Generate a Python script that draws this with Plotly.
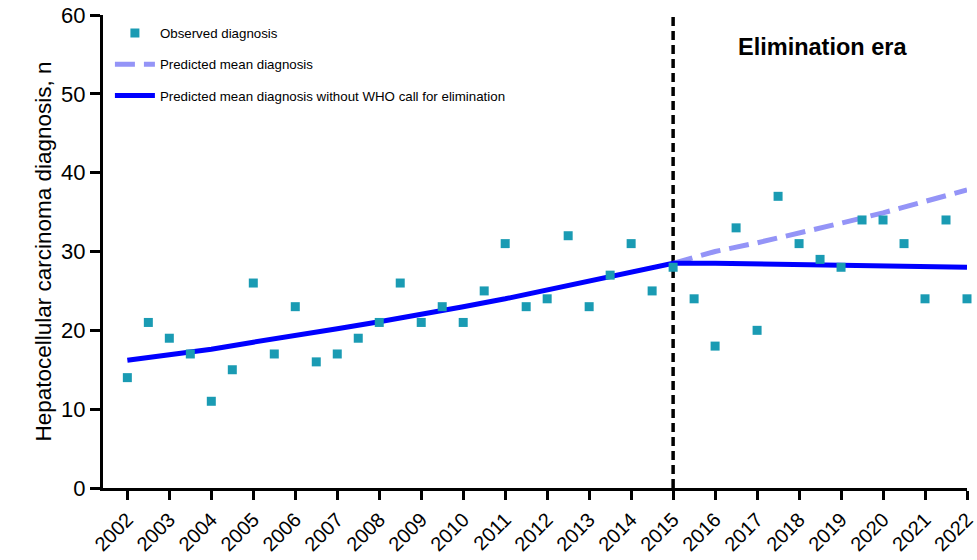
import plotly.graph_objects as go

years = list(range(2002, 2023))
tick_labels = [str(y) for y in years]

obs_x = [2002 + 0.5 * i for i in range(41)]
obs_y = [14, 21, 19, 17, 11, 15, 26, 17, 23, 16, 17, 19, 21, 26, 21, 23, 21, 25, 31, 23,
         24, 32, 23, 27, 31, 25, 28, 24, 18, 33, 20, 37, 31, 29, 28, 34, 34, 31, 24, 34, 24]

pre_x = list(range(2002, 2016))
pre_y = [16.2, 16.9, 17.6, 18.5, 19.3, 20.2, 21.1, 22.0, 23.0, 24.0, 25.1, 26.2, 27.3, 28.5]

post_x = list(range(2015, 2023))
pred_y = [28.5, 30.0, 31.1, 32.3, 33.6, 34.9, 36.3, 37.8]
nowho_y = [28.5, 28.5, 28.4, 28.3, 28.2, 28.2, 28.1, 28.0]

elim_year = 2015
y_range = [0, 60]

FONT = "Liberation Sans, Arial, sans-serif"

fig = go.Figure()

fig.add_trace(go.Scatter(
    x=[elim_year, elim_year], y=y_range, mode="lines",
    line=dict(color="black", width=3.5, dash="9px,5px"),
    showlegend=False, hoverinfo="skip", cliponaxis=False))

fig.add_trace(go.Scatter(
    x=post_x, y=pred_y, mode="lines", name="Predicted mean diagnosis",
    line=dict(color="#9494F7", width=5, dash="20px,9px"),
    legendgroup="b", legendrank=2))

fig.add_trace(go.Scatter(
    x=pre_x + post_x[1:], y=pre_y + nowho_y[1:], mode="lines",
    name="Predicted mean diagnosis without WHO call for elimination",
    line=dict(color="#0000FF", width=5),
    legendgroup="c", legendrank=3))

fig.add_trace(go.Scatter(
    x=obs_x, y=obs_y, mode="markers", name="Observed diagnosis",
    marker=dict(symbol="square", size=9, color="#1A9BB3"),
    legendgroup="a", legendrank=1, cliponaxis=False))

fig.add_annotation(x=2018.55, y=56.0, text="<b>Elimination era</b>", showarrow=False,
                   font=dict(family=FONT, size=23.5, color="black"))

fig.update_layout(
    width=977, height=560,
    margin=dict(l=103, r=10, t=15, b=72),
    plot_bgcolor="white", paper_bgcolor="white",
    font=dict(family=FONT, color="black"),
    legend=dict(x=0.008, y=0.994, xanchor="left", yanchor="top",
                font=dict(size=13.3, family=FONT), bgcolor="rgba(0,0,0,0)",
                tracegroupgap=11, itemwidth=40),
    xaxis=dict(range=[2001.42, 2022], tickvals=years, ticktext=tick_labels,
               tickangle=-45, tickfont=dict(size=20), showgrid=False, automargin=False,
               zeroline=False, showline=True, linecolor="black", linewidth=3,
               ticks="outside", ticklen=9, tickwidth=3, tickcolor="black"),
    yaxis=dict(range=y_range, tickvals=[0, 10, 20, 30, 40, 50, 60], tickfont=dict(size=22),
               showgrid=False, zeroline=False, showline=True, linecolor="black",
               linewidth=3, ticks="outside", ticklen=10, tickwidth=3, tickcolor="black",
               automargin=False,
               title=dict(text="Hepatocellular carcinoma diagnosis, n", font=dict(size=22.5),
                          standoff=4)),
)

fig.write_html("out.html", post_script="document.body.style.margin='0';",
               config={"displayModeBar": False})
